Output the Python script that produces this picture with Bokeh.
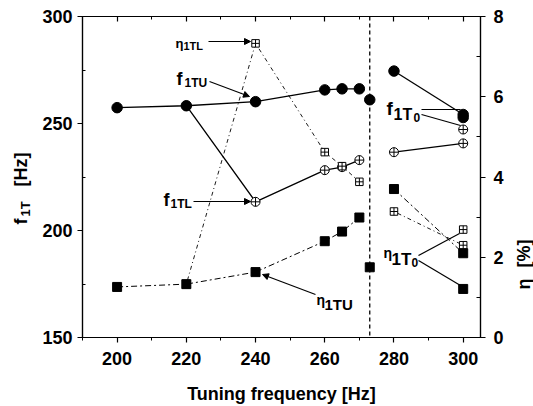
import math
from bokeh.plotting import figure
from bokeh.layouts import row
from bokeh.models import (Range1d, LinearAxis, FixedTicker, Span, Label, Arrow,
                          NormalHead)
from bokeh.embed import file_html
from bokeh.resources import INLINE

# ---------------- data ----------------
x_main = [200, 220, 240, 260, 265, 270]
f1TU = [257.4, 258.3, 260.2, 265.7, 266.2, 266.2]
eta1TU = [1.26, 1.33, 1.63, 2.40, 2.64, 2.99]

x_low = [220, 240, 260, 265, 270]
f1TL = [258.3, 213.4, 228.2, 229.6, 232.9]
eta1TL = [1.33, 7.33, 4.62, 4.27, 3.88]

x_res = [273]
f1T_res = [261.1]
eta1T_res = [1.75]

x_hi = [280, 300]
f1TU_hi = [274.5, 254.2]
f1TL_hi = [236.6, 240.7]
eta1TU_hi = [3.70, 2.10]
eta1TL_hi = [3.14, 2.30]

x_0 = [300]
f1T0_U = [252.8]
f1T0_L = [247.2]
eta1T0_L = [2.69]
eta1T0_U = [1.21]

tuning_line = 273
x_ticks = [200, 220, 240, 260, 280, 300]
x_minor = [190, 210, 230, 250, 270, 290]
f_ticks = [150, 200, 250, 300]
f_minor = [175, 225, 275]
eta_ticks = [0, 2, 4, 6, 8]
eta_minor = [1, 3, 5, 7]

FONT = "Liberation Sans"
H = 406
FB = 340          # frame bottom (pixels from top)
LW, RW = 34, 25
MW = 533 - LW - RW

p = figure(width=MW, height=H, x_range=Range1d(190, 305), y_range=Range1d(150, 300),
           output_backend="svg", toolbar_location=None,
           min_border_left=82 - LW, min_border_right=(533 - RW) - 480,
           min_border_top=16, min_border_bottom=H - FB)
p.grid.visible = False
p.outline_line_color = "black"
p.outline_line_width = 1.2
p.extra_y_ranges = {"eta": Range1d(0, 8)}

def style_axis(ax, tin, tout, min_in, min_out):
    ax.axis_line_color = "black"
    ax.axis_line_width = 1.2
    ax.major_tick_line_color = "black"
    ax.minor_tick_line_color = "black"
    ax.major_tick_line_width = 1.2
    ax.minor_tick_line_width = 1
    ax.major_tick_in = tin
    ax.major_tick_out = tout
    ax.minor_tick_in = min_in
    ax.minor_tick_out = min_out
    ax.major_label_text_font = FONT
    ax.major_label_text_font_style = "bold"
    ax.major_label_text_font_size = "18px"
    ax.major_label_text_color = "black"
    ax.axis_label_text_font = FONT
    ax.axis_label_text_font_style = "bold"
    ax.axis_label_text_font_size = "18px"
    ax.axis_label_text_color = "black"

xb = p.xaxis[0]
xb.ticker = FixedTicker(ticks=x_ticks, minor_ticks=x_minor)
xb.axis_label = "Tuning frequency [Hz]"
style_axis(xb, 0, 5, 0, 3)
xb.major_label_standoff = 9
xb.axis_label_standoff = 16

yl = p.yaxis[0]
yl.ticker = FixedTicker(ticks=f_ticks, minor_ticks=f_minor)
style_axis(yl, 0, 5, 3, 0)
yl.major_label_standoff = 5

xt = LinearAxis(ticker=FixedTicker(ticks=x_ticks, minor_ticks=x_minor))
style_axis(xt, 5, 0, 3, 0)
xt.major_label_overrides = {t: "" for t in x_ticks}
xt.major_label_text_font_size = "1px"
xt.major_label_standoff = 0
p.add_layout(xt, "above")

yr = LinearAxis(y_range_name="eta", ticker=FixedTicker(ticks=eta_ticks, minor_ticks=eta_minor))
style_axis(yr, 0, 5, 4, 0)
yr.major_label_standoff = 8
p.add_layout(yr, "right")

# vertical line at tuning
p.add_layout(Span(location=tuning_line, dimension="height", line_color="black",
                  line_dash="4 3", line_width=1.3))

# ---- lines ----
p.line(x_main, f1TU, line_color="black", line_width=1.3)
p.line(x_low, f1TL, line_color="black", line_width=1.3)
p.line(x_main, eta1TU, y_range_name="eta", line_color="black", line_width=1, line_dash="6 3 2 3")
p.line(x_low, eta1TL, y_range_name="eta", line_color="black", line_width=0.9, line_dash="1 3 4 3")
p.line(x_hi, f1TU_hi, line_color="black", line_width=1.3)
p.line(x_hi, f1TL_hi, line_color="black", line_width=1.3)
p.line(x_hi, eta1TU_hi, y_range_name="eta", line_color="black", line_width=1, line_dash="6 3 2 3")
p.line(x_hi, eta1TL_hi, y_range_name="eta", line_color="black", line_width=0.9, line_dash="1 3 4 3")

# ---- markers ----
open_kw = dict(line_color="black", fill_color="white", line_width=1)
p.scatter(x_low, f1TL, marker="circle_cross", size=9, **open_kw)
p.scatter(x_hi, f1TL_hi, marker="circle_cross", size=9, **open_kw)
p.scatter(x_0, f1T0_L, marker="circle_cross", size=9, **open_kw)
p.scatter(x_low, eta1TL, y_range_name="eta", marker="square_cross", size=7.5, **open_kw)
p.scatter(x_hi, eta1TL_hi, y_range_name="eta", marker="square_cross", size=7.5, **open_kw)
p.scatter(x_0, eta1T0_L, y_range_name="eta", marker="square_cross", size=7.5, **open_kw)

p.scatter(x_main, f1TU, marker="circle", size=10.5, color="black")
p.scatter(x_res, f1T_res, marker="circle", size=10.5, color="black")
p.scatter(x_hi, f1TU_hi, marker="circle", size=10.5, color="black")
p.scatter(x_0, f1T0_U, marker="circle", size=10.5, color="black")
p.scatter(x_main, eta1TU, y_range_name="eta", marker="square", size=9, color="black")
p.scatter(x_res, eta1T_res, y_range_name="eta", marker="square", size=9, color="black")
p.scatter(x_hi, eta1TU_hi, y_range_name="eta", marker="square", size=9, color="black")
p.scatter(x_0, eta1T0_U, y_range_name="eta", marker="square", size=9, color="black")

# ---- annotations (screen units, relative to frame) ----
def txt(fig, text, sx, sy, size, angle=0.0, baseline="alphabetic"):
    fig.add_layout(Label(x=sx, y=sy, x_units="screen", y_units="screen", text=text,
                         text_font=FONT, text_font_style="bold", text_font_size=f"{size}px",
                         text_color="black", text_align="left", text_baseline=baseline,
                         angle=angle))

def arrow(x0, y0, x1, y1, head=True):
    p.add_layout(Arrow(x_start=x0, y_start=y0, x_end=x1, y_end=y1,
                       start_units="screen", end_units="screen",
                       line_color="black", line_width=1.2,
                       end=NormalHead(size=6, fill_color="black", line_color="black") if head else None))

# eta_1TL
txt(p, "η", 93, 294, 13); txt(p, "1TL", 101, 292, 11)
arrow(126, 296, 168, 296)
# f_1TU
txt(p, "f", 94, 259, 18); txt(p, "1TU", 102, 255, 12)
arrow(127, 256, 167, 241)
# f_1TL
txt(p, "f", 81, 138, 18); txt(p, "1TL", 88, 134, 12)
arrow(111, 136, 168, 136)
# eta_1TU
txt(p, "η", 234, 38, 14); txt(p, "1TU", 242, 33, 15)
arrow(233, 43, 180, 63)
# f_1T0
txt(p, "f", 304, 229, 19); txt(p, "1T", 311, 223, 16); txt(p, "0", 331, 220, 12)
arrow(339, 228, 378, 228, head=False)
arrow(339, 223, 378, 212, head=False)
# eta_1T0
txt(p, "η", 301, 85, 14); txt(p, "1T", 309, 78, 17); txt(p, "0", 329, 75, 12)
arrow(336, 82, 377, 104, head=False)
arrow(336, 77, 378, 52, head=False)

# ---- rotated axis titles in narrow side figures (frames align with the main frame) ----
def side_fig(w):
    f = figure(width=w, height=H, x_range=Range1d(0, 1), y_range=Range1d(0, 1),
               output_backend="svg", toolbar_location=None, min_border=0,
               x_axis_location=None, y_axis_location=None)
    f.grid.visible = False
    f.outline_line_color = None
    return f

A = math.pi / 2
lf = side_fig(LW)
txt(lf, "f", 10, FB - 227, 18, A, "top")
txt(lf, "1T", 17, FB - 219, 13, A, "top")
txt(lf, "[Hz]", 10, FB - 189, 18, A, "top")

rf = side_fig(RW)
txt(rf, "η", 5, FB - 292, 18, A, "top")
txt(rf, "[%]", 5, FB - 270, 18, A, "top")

layout = row(lf, p, rf, spacing=0)
open("out.html", "w").write(file_html(layout, INLINE))
